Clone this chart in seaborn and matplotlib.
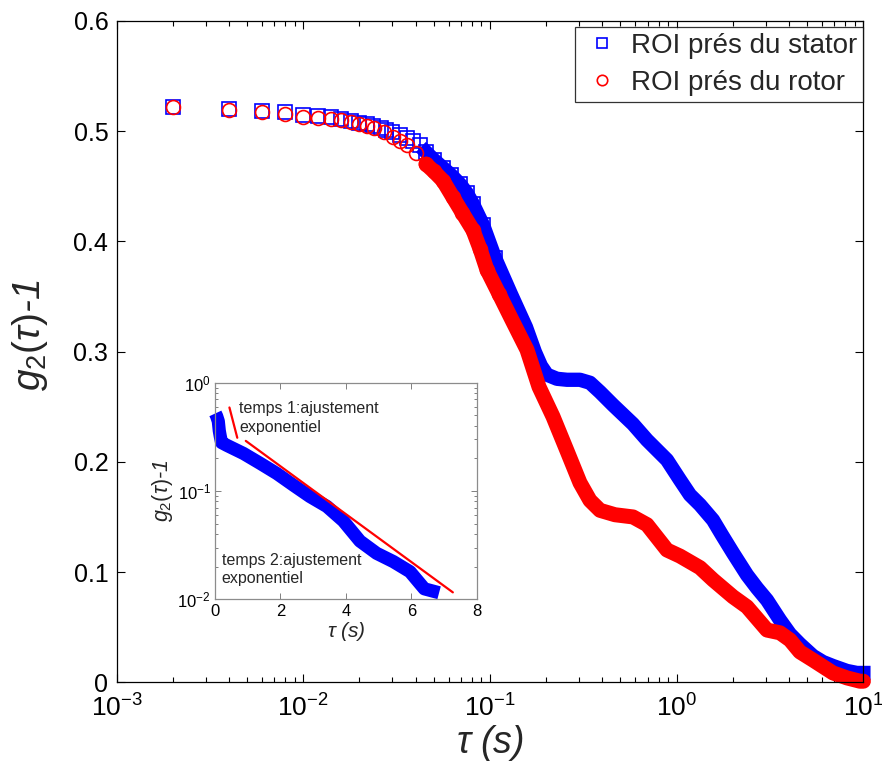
import matplotlib
matplotlib.use("Agg")
import matplotlib.pyplot as plt
from matplotlib.lines import Line2D
from matplotlib.ticker import LogLocator, NullFormatter
import pandas as pd
import seaborn as sns

# ---------------- data ----------------
tau_stator = [0.002, 0.004, 0.006, 0.008, 0.010, 0.012, 0.014, 0.016, 0.018, 0.020,
              0.022, 0.0236, 0.026, 0.0277, 0.030, 0.033, 0.036, 0.0387, 0.042, 0.0454,
              0.050, 0.056, 0.062, 0.069, 0.075, 0.081, 0.0917, 0.1064, 0.1296, 0.156,
              0.174, 0.1876, 0.202, 0.2285, 0.2585, 0.3034, 0.3432, 0.3884, 0.456, 0.583,
              0.693, 0.887, 1.042, 1.178, 1.333, 1.565, 1.748, 2.003, 2.38, 2.692,
              3.046, 3.575, 4.045, 4.57, 5.37, 6.076, 6.874, 8.17, 9.24, 10.0]
g2_stator = [0.522, 0.520, 0.5185, 0.517, 0.5146, 0.5135, 0.5125, 0.511, 0.509, 0.5075,
             0.506, 0.505, 0.503, 0.501, 0.499, 0.4966, 0.494, 0.491, 0.487, 0.481,
             0.474, 0.4666, 0.460, 0.452, 0.444, 0.434, 0.415, 0.385, 0.352, 0.322,
             0.2996, 0.287, 0.279, 0.2753, 0.2744, 0.2744, 0.2717, 0.2633, 0.2515, 0.2343,
             0.2198, 0.2017, 0.1835, 0.170, 0.161, 0.1472, 0.1336, 0.1173, 0.0974, 0.0855,
             0.0746, 0.0565, 0.0438, 0.0347, 0.0239, 0.0184, 0.0148, 0.0103, 0.0085, 0.0085]

tau_rotor = [0.002, 0.004, 0.006, 0.008, 0.010, 0.012, 0.014, 0.016, 0.018, 0.020,
             0.022, 0.024, 0.027, 0.0302, 0.033, 0.036, 0.040, 0.0454, 0.050, 0.056,
             0.0633, 0.071, 0.0811, 0.0885, 0.0964, 0.112, 0.1312, 0.1578, 0.183, 0.2175,
             0.2585, 0.3034, 0.3432, 0.3884, 0.4672, 0.5833, 0.6934, 0.8872, 1.0416, 1.333,
             1.565, 2.003, 2.38, 3.046, 3.575, 4.045, 4.57, 5.37, 6.874, 8.17,
             9.59, 10.0]
g2_rotor = [0.5215, 0.519, 0.5175, 0.5155, 0.5125, 0.5116, 0.5107, 0.510, 0.5085, 0.506,
            0.5045, 0.503, 0.4995, 0.495, 0.491, 0.487, 0.480, 0.470, 0.4635, 0.455,
            0.440, 0.426, 0.410, 0.393, 0.374, 0.352, 0.3286, 0.3016, 0.268, 0.241,
            0.210, 0.181, 0.165, 0.156, 0.152, 0.150, 0.143, 0.120, 0.1145, 0.104,
            0.093, 0.0776, 0.0685, 0.0474, 0.0449, 0.0384, 0.0276, 0.0202, 0.0085, 0.004,
            0.001, 0.001]

inset_tau = [0.01, 0.05, 0.10, 0.13, 0.16, 0.20, 0.36, 0.87, 1.38, 1.89,
             2.40, 2.90, 3.42, 3.92, 4.43, 4.94, 5.45, 5.96, 6.40, 6.85]
inset_g2 = [0.52, 0.49, 0.44, 0.36, 0.32, 0.28, 0.264, 0.222, 0.180, 0.145,
            0.113, 0.089, 0.072, 0.053, 0.0345, 0.0266, 0.0223, 0.018, 0.0125, 0.0115]

fit1_tau = [0.44, 0.68]
fit1_g2 = [0.59, 0.31]
fit2_tau = [0.94, 7.27]
fit2_g2 = [0.29, 0.0116]

legend_labels = ["ROI prés du stator", "ROI prés du rotor"]
yticks = [0, 0.1, 0.2, 0.3, 0.4, 0.5, 0.6]
ytick_labels = ["0", "0.1", "0.2", "0.3", "0.4", "0.5", "0.6"]
inset_xticks = [0, 2, 4, 6, 8]
inset_text1 = "temps 1:ajustement\nexponentiel"
inset_text2 = "temps 2:ajustement\nexponentiel"

# ---------------- style ----------------
sns.set_style("ticks")
plt.rcParams["font.family"] = ["Liberation Sans", "DejaVu Sans"]
plt.rcParams["mathtext.fontset"] = "custom"
plt.rcParams["mathtext.rm"] = "Liberation Sans"
plt.rcParams["mathtext.it"] = "Liberation Sans:italic"
plt.rcParams["mathtext.bf"] = "Liberation Sans:bold"
plt.rcParams["axes.edgecolor"] = "black"

BLUE = "#0000ff"
RED = "#ff0000"
LINE_START = 0.045   # where the sampled points merge into a continuous band
MARK_END = 0.12

df_s = pd.DataFrame({"tau": tau_stator, "g2": g2_stator})
df_r = pd.DataFrame({"tau": tau_rotor, "g2": g2_rotor})
df_in = pd.DataFrame({"tau": inset_tau, "g2": inset_g2})

fig = plt.figure(figsize=(8.82, 7.67), dpi=100)
ax = fig.add_axes([0.1322, 0.1104, 0.8467, 0.8625])
ax.set_xscale("log")

# stator: dense part as a thick band, sparse part as open squares
sns.lineplot(data=df_s[df_s.tau >= LINE_START], x="tau", y="g2", ax=ax, color=BLUE, lw=10.3,
             estimator=None, sort=False, legend=False, solid_capstyle="projecting",
             clip_on=False)
sns.lineplot(data=df_s[df_s.tau <= MARK_END], x="tau", y="g2", ax=ax, color=BLUE, ls="",
             marker="s", markersize=9.4, markerfacecolor="none", markeredgecolor=BLUE,
             markeredgewidth=1.2, estimator=None, sort=False, legend=False, clip_on=False)
# rotor
sns.lineplot(data=df_r[df_r.tau >= LINE_START], x="tau", y="g2", ax=ax, color=RED, lw=10.8,
             estimator=None, sort=False, legend=False, solid_capstyle="round", clip_on=False)
sns.lineplot(data=df_r[df_r.tau <= MARK_END], x="tau", y="g2", ax=ax, color=RED, ls="",
             marker="o", markersize=10, markerfacecolor="none", markeredgecolor=RED,
             markeredgewidth=1.2, estimator=None, sort=False, legend=False, clip_on=False)

ax.set_xlim(1e-3, 1e1)
ax.set_ylim(0, 0.6)
ax.set_yticks(yticks, labels=ytick_labels)
ax.xaxis.set_major_locator(LogLocator(base=10, numticks=10))
ax.xaxis.set_minor_locator(LogLocator(base=10, subs=range(2, 10), numticks=20))
ax.xaxis.set_minor_formatter(NullFormatter())
ax.tick_params(which="both", direction="in", top=True, right=True, width=0.8, colors="black")
ax.tick_params(which="major", length=6)
ax.tick_params(which="minor", length=3.5)
ax.tick_params(axis="y", labelsize=18, pad=6)
ax.tick_params(axis="x", labelsize=19, pad=9)
for sp in ax.spines.values():
    sp.set_linewidth(0.9)
    sp.set_color("black")
ax.set_xlabel(r"$\tau$ (s)", fontsize=27, fontstyle="italic", labelpad=1)
ax.set_ylabel(r"$g_2(\tau)$-1", fontsize=28, fontstyle="italic")
ax.yaxis.set_label_coords(-0.089, 0.525)

handles = [Line2D([], [], ls="", marker="s", ms=7.5, mfc="none", mec=BLUE, mew=1.2),
           Line2D([], [], ls="", marker="o", ms=7.5, mfc="none", mec=RED, mew=1.2)]
leg = ax.legend(handles, legend_labels, loc="upper right", bbox_to_anchor=(1.0, 0.9906),
                borderaxespad=0, fontsize=20, frameon=True, fancybox=False,
                handlelength=1.5, handletextpad=0.3, borderpad=0.22, labelspacing=0.38)
leg.get_frame().set_edgecolor("black")
leg.get_frame().set_linewidth(0.9)

# ---------------- inset ----------------
axi = fig.add_axes([0.2438, 0.2186, 0.2967, 0.2825])
axi.set_facecolor("white")
axi.set_yscale("log")
sns.lineplot(data=df_in, x="tau", y="g2", ax=axi, color=BLUE, lw=9.5, estimator=None,
             sort=False, legend=False, solid_capstyle="butt", clip_on=False)
sns.lineplot(x=fit1_tau, y=fit1_g2, ax=axi, color=RED, lw=1.6, estimator=None, sort=False,
             legend=False)
sns.lineplot(x=fit2_tau, y=fit2_g2, ax=axi, color=RED, lw=1.6, estimator=None, sort=False,
             legend=False)
axi.set_xlim(0, 8)
axi.set_ylim(1e-2, 1e0)
axi.set_xticks(inset_xticks)
axi.yaxis.set_minor_locator(LogLocator(base=10, subs=range(2, 10), numticks=20))
axi.yaxis.set_minor_formatter(NullFormatter())
axi.tick_params(which="both", direction="in", top=True, right=True, width=0.7,
                labelsize=12, colors="#808080", labelcolor="black")
axi.tick_params(which="major", length=4, pad=3)
axi.tick_params(which="minor", length=2.5)
for sp in axi.spines.values():
    sp.set_linewidth(0.9)
    sp.set_color("#8c8c8c")
axi.set_xlabel(r"$\tau$ (s)", fontsize=15, fontstyle="italic", labelpad=1)
axi.set_ylabel(r"$g_2(\tau)$-1", fontsize=15.5, fontstyle="italic", labelpad=2)
axi.text(0.092, 0.915, inset_text1, transform=axi.transAxes, fontsize=11.5,
         va="top", ha="left", linespacing=1.3)
axi.text(0.026, 0.215, inset_text2, transform=axi.transAxes, fontsize=11.5,
         va="top", ha="left", linespacing=1.3)

fig.savefig("out.png", dpi=100, facecolor="white")
